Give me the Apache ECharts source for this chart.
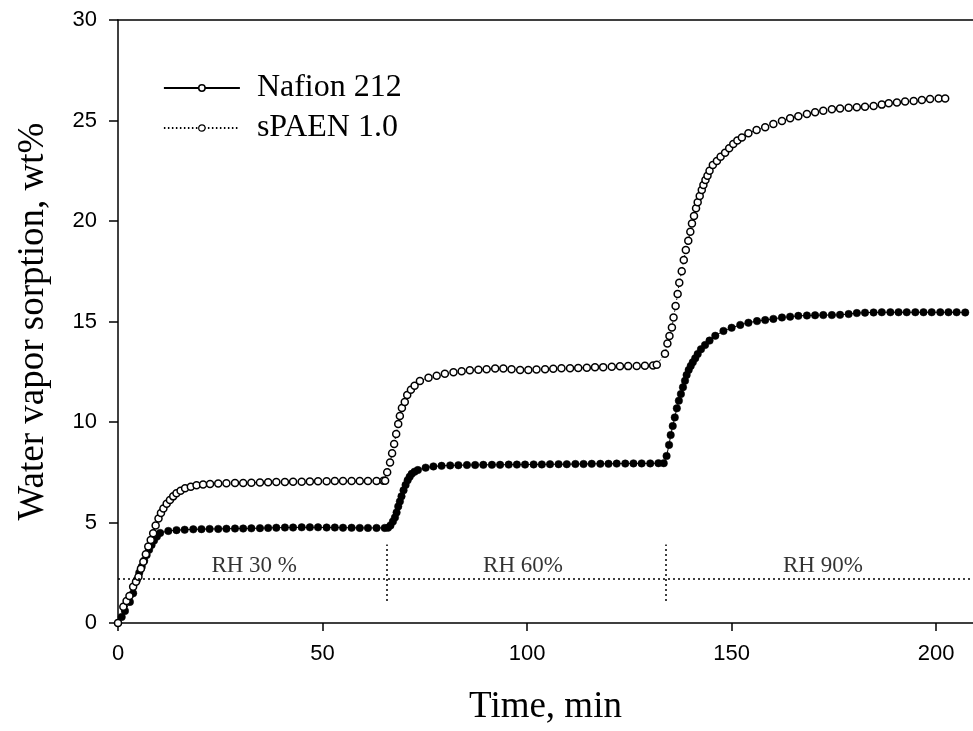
<!DOCTYPE html>
<html>
<head>
<meta charset="utf-8">
<script src="https://cdn.jsdelivr.net/npm/echarts@6/dist/echarts.min.js"></script>
<style>
  html, body { margin: 0; padding: 0; background: #fff; }
  #chart { width: 973px; height: 731px; }
</style>
</head>
<body>
<div id="chart"></div>
<script>
// [time (min), water vapor sorption (wt%)]
var nafion212 = [
  [0, 0], [0.9, 0.3], [1.7, 0.6], [2.9, 1.05], [3.7, 1.48], [4.6, 2.14], [5.2, 2.5], [5.8, 2.8],
  [6.4, 3.1], [7.0, 3.38], [7.6, 3.64], [8.2, 3.88], [8.8, 4.1], [9.5, 4.3], [10.3, 4.48], [12.3, 4.58],
  [14.3, 4.62], [16.3, 4.64], [18.4, 4.66], [20.4, 4.67], [22.4, 4.68], [24.5, 4.68], [26.5, 4.69],
  [28.6, 4.7], [30.6, 4.7], [32.6, 4.71], [34.7, 4.72], [36.7, 4.73], [38.7, 4.74], [40.8, 4.75],
  [42.8, 4.75], [44.9, 4.76], [46.9, 4.76], [48.9, 4.76], [51.0, 4.75], [53.0, 4.75], [55.0, 4.74],
  [57.1, 4.74], [59.1, 4.73], [61.1, 4.73], [63.2, 4.73], [65.2, 4.73], [66.0, 4.74],
  [66.6, 4.85], [67.2, 5.05], [67.7, 5.25], [68.1, 5.5], [68.5, 5.8], [68.9, 6.05], [69.3, 6.3],
  [69.8, 6.6], [70.3, 6.87], [70.8, 7.1], [71.3, 7.28], [71.8, 7.42], [72.5, 7.53], [73.3, 7.61],
  [75.2, 7.73], [77.1, 7.79], [79.1, 7.82], [81.2, 7.84], [83.2, 7.85], [85.3, 7.86], [87.3, 7.86],
  [89.3, 7.87], [91.4, 7.87], [93.4, 7.87], [95.5, 7.88], [97.5, 7.88], [99.5, 7.88], [101.6, 7.89],
  [103.6, 7.89], [105.6, 7.9], [107.7, 7.9], [109.7, 7.9], [111.8, 7.91], [113.8, 7.91], [115.8, 7.92],
  [117.9, 7.92], [119.9, 7.92], [121.9, 7.93], [124.0, 7.93], [126.0, 7.94], [128.0, 7.94], [130.1, 7.94],
  [132.1, 7.95], [133.4, 7.95],
  [134.1, 8.31], [134.7, 8.86], [135.1, 9.35], [135.6, 9.8], [136.1, 10.23], [136.6, 10.68], [137.1, 11.06],
  [137.6, 11.39], [138.1, 11.73], [138.6, 12.05], [139.0, 12.34], [139.5, 12.59], [140.0, 12.79],
  [140.5, 12.97], [141.1, 13.17], [141.7, 13.38], [142.5, 13.62], [143.5, 13.83], [144.6, 14.05],
  [146.0, 14.29], [148.0, 14.53], [150.0, 14.69], [152.1, 14.83], [154.1, 14.94], [156.2, 15.02],
  [158.2, 15.07], [160.2, 15.13], [162.3, 15.2], [164.3, 15.24], [166.3, 15.28], [168.4, 15.3],
  [170.4, 15.31], [172.4, 15.32], [174.5, 15.32], [176.5, 15.33], [178.6, 15.37], [180.6, 15.42],
  [182.6, 15.44], [184.7, 15.45], [186.7, 15.46], [188.8, 15.46], [190.8, 15.46], [192.8, 15.46],
  [194.9, 15.46], [196.9, 15.46], [198.9, 15.46], [201.0, 15.46], [203.0, 15.46], [205.0, 15.46],
  [207.1, 15.45]
];

var spaen10 = [
  [0, 0], [1.3, 0.81], [2.1, 1.1], [2.8, 1.34], [3.7, 1.8], [4.4, 2.05], [5.0, 2.3], [5.6, 2.7],
  [6.2, 3.05], [6.8, 3.42], [7.4, 3.8], [8.0, 4.13], [8.6, 4.46], [9.2, 4.85], [9.9, 5.2], [10.5, 5.47],
  [11.1, 5.7], [11.9, 5.93], [12.7, 6.12], [13.5, 6.3], [14.3, 6.45], [15.3, 6.58], [16.4, 6.7],
  [17.8, 6.78], [19.2, 6.85], [20.8, 6.89], [22.5, 6.92], [24.5, 6.94], [26.5, 6.95], [28.6, 6.96],
  [30.6, 6.97], [32.6, 6.98], [34.7, 6.99], [36.7, 7.0], [38.7, 7.01], [40.8, 7.02], [42.8, 7.03],
  [44.9, 7.03], [46.9, 7.04], [48.9, 7.05], [51.0, 7.05], [53.0, 7.06], [55.0, 7.06], [57.1, 7.06],
  [59.1, 7.06], [61.1, 7.07], [63.2, 7.07], [64.9, 7.08], [65.3, 7.08],
  [65.8, 7.5], [66.5, 7.98], [67.0, 8.44], [67.5, 8.9], [68.0, 9.4], [68.5, 9.9], [68.9, 10.3],
  [69.4, 10.7], [70.1, 11.0], [70.7, 11.34], [71.6, 11.6], [72.5, 11.8], [73.8, 12.04], [75.9, 12.2],
  [77.9, 12.3], [79.9, 12.4], [82.0, 12.47], [84.0, 12.52], [86.0, 12.57], [88.1, 12.6], [90.1, 12.63],
  [92.2, 12.66], [94.2, 12.66], [96.2, 12.62], [98.3, 12.59], [100.3, 12.59], [102.3, 12.61],
  [104.4, 12.63], [106.4, 12.65], [108.4, 12.67], [110.5, 12.68], [112.5, 12.69], [114.6, 12.7],
  [116.6, 12.72], [118.6, 12.73], [120.7, 12.75], [122.7, 12.77], [124.7, 12.78], [126.8, 12.79],
  [128.8, 12.8], [130.8, 12.81], [131.7, 12.85],
  [133.7, 13.4], [134.3, 13.9], [134.8, 14.28], [135.4, 14.7], [135.8, 15.2], [136.3, 15.77],
  [136.8, 16.37], [137.2, 16.93], [137.8, 17.5], [138.3, 18.06], [138.8, 18.56], [139.4, 19.02],
  [139.9, 19.47], [140.3, 19.88], [140.8, 20.25], [141.3, 20.63], [141.7, 20.93], [142.2, 21.24],
  [142.7, 21.54], [143.1, 21.79], [143.6, 22.04], [144.1, 22.25], [144.6, 22.5], [145.4, 22.79],
  [146.4, 22.99], [147.3, 23.2], [148.4, 23.4], [149.4, 23.62], [150.4, 23.83], [151.4, 24.0],
  [152.5, 24.16], [154.1, 24.36], [156.1, 24.53], [158.2, 24.66], [160.2, 24.83], [162.3, 24.98],
  [164.3, 25.11], [166.3, 25.21], [168.4, 25.32], [170.4, 25.41], [172.4, 25.49], [174.5, 25.56],
  [176.5, 25.6], [178.6, 25.64], [180.6, 25.66], [182.6, 25.69], [184.7, 25.72], [186.7, 25.79],
  [188.4, 25.86], [190.4, 25.9], [192.4, 25.94], [194.5, 25.97], [196.5, 26.02], [198.5, 26.07],
  [200.6, 26.1], [202.2, 26.1]
];

// RH step markers
var rhLevelY = 2.2;
var rhStepTimes = [65.8, 134.0];
var rhStepSpan = [1.1, 3.9];
var rhLabels = ['RH 30 %', 'RH 60%', 'RH 90%'];
var rhLabelTimes = [33.3, 99.0, 172.3];

var xTicks = { min: 0, max: 209, interval: 50 };
var yTicks = { min: 0, max: 30, interval: 5 };

var serif = "'Liberation Serif', 'Times New Roman', serif";
var sans = "'Liberation Sans', Arial, sans-serif";

var chart = echarts.init(document.getElementById('chart'));

var markLines = [
  [{ coord: [xTicks.min, rhLevelY] }, { coord: [xTicks.max, rhLevelY] }]
];
rhStepTimes.forEach(function (t) {
  markLines.push([{ coord: [t, rhStepSpan[0]] }, { coord: [t, rhStepSpan[1]] }]);
});

var option = {
  animation: false,
  backgroundColor: '#fff',
  grid: {
    left: 118,
    right: 0,
    top: 20,
    bottom: 108,
    outerBoundsMode: 'none'
  },
  legend: {
    data: [
      { name: 'Nafion 212', itemStyle: { color: '#fff', borderColor: '#000', borderWidth: 1.5 } },
      { name: 'sPAEN 1.0', itemStyle: { color: '#fff', borderColor: '#000', borderWidth: 1.2 } }
    ],
    orient: 'vertical',
    left: 158,
    top: 63,
    itemWidth: 76,
    itemHeight: 8,
    itemGap: 0,
    lineStyle: { width: 1.8 },
    textStyle: {
      fontFamily: serif,
      fontSize: 32,
      color: '#000',
      lineHeight: 40,
      padding: [0, 0, 0, 12]
    }
  },
  xAxis: [
    {
      type: 'value',
      min: xTicks.min,
      max: xTicks.max,
      interval: xTicks.interval,
      name: 'Time, min',
      nameLocation: 'middle',
      nameGap: 66,
      nameTextStyle: { fontFamily: serif, fontSize: 37, color: '#000' },
      axisLine: { show: true, onZero: false, lineStyle: { color: '#000', width: 1.5 } },
      axisTick: { show: true, inside: false, length: 8, lineStyle: { color: '#000', width: 1.5 } },
      axisLabel: { fontFamily: sans, fontSize: 22, color: '#000', margin: 20, showMaxLabel: false },
      splitLine: { show: false }
    },
    {
      type: 'value',
      position: 'top',
      min: xTicks.min,
      max: xTicks.max,
      axisLine: { show: true, onZero: false, lineStyle: { color: '#000', width: 1.5 } },
      axisTick: { show: false },
      axisLabel: { show: false },
      splitLine: { show: false }
    }
  ],
  yAxis: {
    type: 'value',
    min: yTicks.min,
    max: yTicks.max,
    interval: yTicks.interval,
    name: 'Water vapor sorption, wt%',
    nameLocation: 'middle',
    nameGap: 66,
    nameTextStyle: { fontFamily: serif, fontSize: 37, color: '#000' },
    axisLine: { show: true, onZero: false, lineStyle: { color: '#000', width: 1.5 } },
    axisTick: { show: true, inside: false, length: 9, lineStyle: { color: '#000', width: 1.5 } },
    axisLabel: { fontFamily: sans, fontSize: 22, color: '#000', margin: 21 },
    splitLine: { show: false }
  },
  series: [
    {
      name: 'RH steps',
      type: 'scatter',
      symbolSize: 0,
      silent: true,
      data: rhLabelTimes.map(function (t, i) {
        return { value: [t, rhLevelY], label: { formatter: rhLabels[i] } };
      }),
      label: {
        show: true,
        position: 'top',
        distance: 1,
        fontFamily: serif,
        fontSize: 23,
        color: '#000'
      },
      markLine: {
        silent: true,
        symbol: ['none', 'none'],
        label: { show: false },
        lineStyle: { color: '#000', width: 1.5, type: [2, 3] },
        data: markLines
      },
      z: 1
    },
    {
      name: 'Nafion 212',
      type: 'line',
      data: nafion212,
      symbol: 'circle',
      symbolSize: 7.5,
      showAllSymbol: true,
      lineStyle: { color: '#000', width: 1 },
      itemStyle: { color: '#000', borderColor: '#000', borderWidth: 0.5 },
      z: 2
    },
    {
      name: 'sPAEN 1.0',
      type: 'line',
      data: spaen10,
      symbol: 'circle',
      symbolSize: 7,
      showAllSymbol: true,
      lineStyle: { color: '#000', width: 1, type: [1.5, 2.5] },
      itemStyle: { color: '#fff', borderColor: '#000', borderWidth: 1.5 },
      z: 3
    }
  ]
};

chart.setOption(option);
</script>
</body>
</html>
